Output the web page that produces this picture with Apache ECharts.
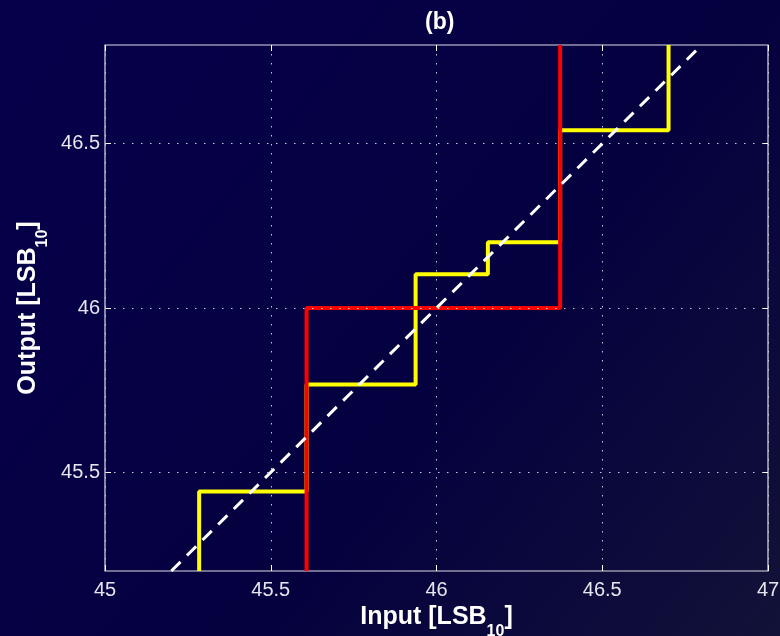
<!DOCTYPE html>
<html><head><meta charset="utf-8">
<script src="https://cdn.jsdelivr.net/npm/echarts@6/dist/echarts.min.js"></script>
<style>html,body{margin:0;padding:0;background:#04003f;}#c{width:780px;height:636px;}</style>
</head><body><div id="c"></div>
<script>
// ---- data ----
var xTicks = [45, 45.5, 46, 46.5, 47];
var yTicks = [45.5, 46, 46.5];
var xRange = [45, 47];
var yRange = [45.2, 46.8];
// yellow staircase: transition inputs and output levels
var yellowSteps = [45.284, 45.608, 45.937, 46.155, 46.373, 46.70];
var yellowLevels = [45.442, 45.767, 46.103, 46.2, 46.541];
// red staircase
var redSteps = [45.608, 46.373];
var redLevels = [46.0];
// ideal line y = x
var idealX = [45.2, 46.8];

function staircase(steps, levels) {
  var pts = [[steps[0], yRange[0]]];
  for (var i = 0; i < levels.length; i++) {
    pts.push([steps[i], levels[i]]);
    pts.push([steps[i + 1], levels[i]]);
  }
  pts.push([steps[steps.length - 1], yRange[1]]);
  return pts;
}
var yellowData = staircase(yellowSteps, yellowLevels);
var redData = staircase(redSteps, redLevels);
var idealData = idealX.map(function (v) { return [v, v]; });

var labelColor = '#e6e6ee';
var font = '"Liberation Sans", Arial, sans-serif';
var chart = echarts.init(document.getElementById('c'));
var tickStyle = {show: true, inside: true, length: 6, lineStyle: {color: '#ffffff', width: 1}};
var nameRich = {
  b: {color: '#ffffff', fontSize: 25, fontWeight: 'bold', fontFamily: font},
  s: {color: '#ffffff', fontSize: 16, fontWeight: 'bold', fontFamily: font, padding: [28, 0, 0, 0]}
};
chart.setOption({
  backgroundColor: {
    type: 'linear', x: 0, y: 0, x2: 1, y2: 1,
    colorStops: [{offset: 0, color: '#06004b'}, {offset: 0.6, color: '#05013f'}, {offset: 1, color: '#121238'}]
  },
  title: {
    text: '(b)', left: 420, top: 6,
    textStyle: {color: '#ffffff', fontSize: 23, fontWeight: 'bold', fontFamily: font}
  },
  grid: {left: 105, right: 12, top: 45, bottom: 65, outerBoundsMode: 'none', containLabel: false,
    show: true, borderColor: '#dcdce4', borderWidth: 1.2, backgroundColor: 'transparent'},
  xAxis: [{
    type: 'value', min: xRange[0], max: xRange[1], interval: 0.5,
    axisLine: {show: false},
    axisTick: tickStyle,
    axisLabel: {color: labelColor, fontSize: 20, fontFamily: font, margin: 9,
      formatter: function (v) { return xTicks.indexOf(v) >= 0 ? String(v) : ''; }},
    splitLine: {show: true, lineStyle: {color: '#c8c8d8', type: [1.5, 7.5], width: 1}},
    name: '{b|Input [LSB}{s|10}{b|]}', nameLocation: 'middle', nameGap: 24,
    nameTextStyle: {rich: nameRich}
  }, {
    type: 'value', min: xRange[0], max: xRange[1], interval: 0.5, position: 'top',
    axisLine: {show: false}, axisTick: tickStyle, axisLabel: {show: false}, splitLine: {show: false}
  }],
  yAxis: [{
    type: 'value', min: yRange[0], max: yRange[1],
    axisLine: {show: false},
    axisTick: Object.assign({customValues: yTicks}, tickStyle),
    axisLabel: {color: labelColor, fontSize: 20, fontFamily: font, margin: 5, customValues: yTicks},
    splitLine: {show: false},
    name: '{b|Output [LSB}{s|10}{b|]}', nameLocation: 'middle', nameGap: 54, nameRotate: 90,
    nameTextStyle: {rich: nameRich}
  }, {
    type: 'value', min: yRange[0], max: yRange[1], position: 'right',
    axisLine: {show: false},
    axisTick: Object.assign({customValues: yTicks}, tickStyle),
    axisLabel: {show: false, customValues: yTicks}, splitLine: {show: false}
  }],
  series: [{
    type: 'line', data: [], silent: true,
    markLine: {
      silent: true, symbol: 'none', label: {show: false},
      lineStyle: {color: '#c8c8d8', type: [1.5, 7.5], width: 1},
      data: yTicks.map(function (v) { return {yAxis: v}; })
    }
  }, {
    type: 'line', data: yellowData, showSymbol: false, clip: true,
    lineStyle: {color: '#ffff00', width: 4}, z: 3
  }, {
    type: 'line', data: redData, showSymbol: false, clip: true,
    lineStyle: {color: '#ff0000', width: 4}, z: 4
  }, {
    type: 'line', data: idealData, showSymbol: false, clip: true,
    lineStyle: {color: '#ffffff', width: 3, type: [13, 9]}, z: 5
  }]
});
</script></body></html>
